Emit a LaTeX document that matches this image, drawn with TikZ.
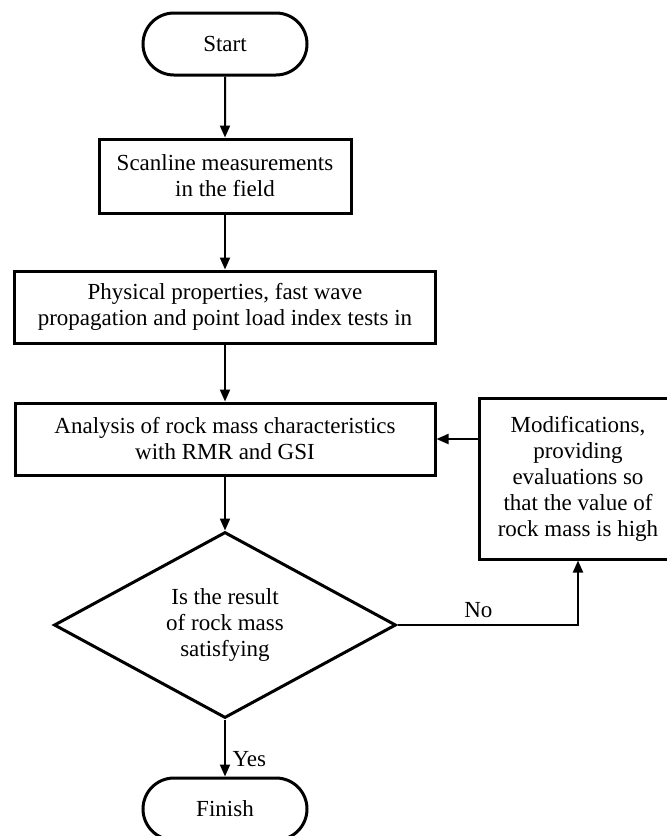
\documentclass[tikz,border=0pt]{standalone}
\usepackage{fontspec}
\setmainfont{Liberation Serif}
\usetikzlibrary{shapes.geometric,shapes.misc,arrows.meta}
\tikzset{
  txt/.style={font=\fontsize{11.5}{13}\selectfont},
  terminal/.style={txt, rounded rectangle, draw, line width=1.5pt, minimum width=82pt, minimum height=31pt, inner sep=0pt},
  process/.style={txt, rectangle, draw, line width=1.5pt, align=center, inner sep=0pt},
  decision/.style={txt, diamond, draw, line width=1.5pt, align=center, aspect=1.84, minimum width=171pt, minimum height=93pt, inner sep=0pt},
  flow/.style={line width=1pt, -{Triangle[length=6pt,width=5pt]}}
}
\begin{document}
\begin{tikzpicture}[x=0.5pt,y=-0.5pt]
\useasboundingbox (0,0) rectangle (666,836);
\node[terminal] (start) at (225,44) {Start};
\node[process, minimum width=126pt, minimum height=37pt] (scan) at (225,176) {Scanline measurements\\in the field};
\node[process, minimum width=210.5pt, minimum height=36pt] (phys) at (225,307) {Physical properties, fast wave\\propagation and point load index tests in};
\node[process, minimum width=210pt, minimum height=36pt] (anal) at (225,439) {Analysis of rock mass characteristics\\with RMR and GSI};
\node[process, minimum width=99pt, minimum height=80.5pt] (modif) at (578,478.5) {Modifications,\\providing\\evaluations so\\that the value of\\rock mass is high};
\node[decision] (dec) at (225,625) {Is the result\\of rock mass\\satisfying};
\node[terminal] (finish) at (225,809) {Finish};
\draw[flow] (start) -- (scan);
\draw[flow] (scan) -- (phys);
\draw[flow] (phys) -- (anal);
\draw[flow] (anal) -- (dec);
\draw[flow] (dec) -- node[txt, right, pos=0.7] {Yes} (finish);
\draw[flow] (dec.east) -| node[txt, above, pos=0.224] {No} (modif.south);
\draw[flow] (modif.west |- anal.east) -- (anal.east);
\end{tikzpicture}
\end{document}
